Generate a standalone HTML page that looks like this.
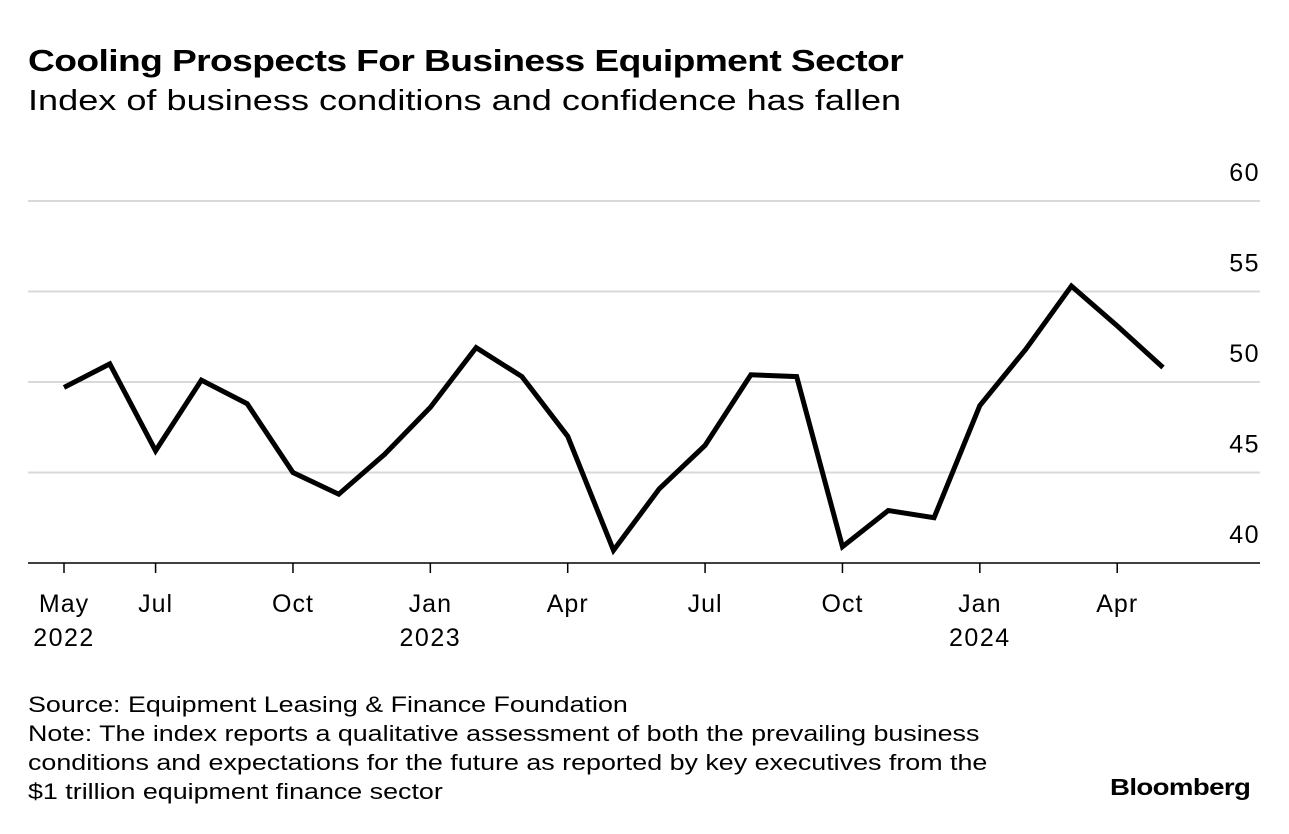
<!DOCTYPE html>
<html><head><meta charset="utf-8"><style>
body{margin:0;background:#fff;font-family:"Liberation Sans",Arial,sans-serif;color:#000}
#wrap{position:relative;width:1289px;height:834px;overflow:hidden}
.t{position:absolute;white-space:nowrap;transform-origin:0 0;transform:scaleX(1.2)}
</style></head><body>
<div id="wrap">
<div class="t" style="left:28px;top:43px;font-size:31px;font-weight:bold;letter-spacing:-0.5px">Cooling Prospects For Business Equipment Sector</div>
<div class="t" style="left:28px;top:85px;font-size:29px;transform:scaleX(1.245)">Index of business conditions and confidence has fallen</div>
<svg id="chart" width="1289" height="680" style="position:absolute;left:0;top:0"></svg>
<div class="t" style="left:28px;top:690px;font-size:22px;line-height:29px;transform:scaleX(1.22)">Source: Equipment Leasing &amp; Finance Foundation<br>Note: The index reports a qualitative assessment of both the prevailing business<br>conditions and expectations for the future as reported by key executives from the<br>$1 trillion equipment finance sector</div>
<div class="t" style="left:1110px;top:774px;font-size:23px;font-weight:bold;letter-spacing:-0.5px">Bloomberg</div>
</div>
<script>
const values=[49.7,51.0,46.2,50.1,48.8,45.0,43.8,46.0,48.6,51.9,50.3,47.0,40.7,44.1,46.5,50.4,50.3,40.9,42.9,42.5,48.7,51.8,55.3,53.1,50.8];
const yTicks=[40,45,50,55,60];
const xTickIdx=[0,2,5,8,11,14,17,20,23];
const xTickLabels=["May","Jul","Oct","Jan","Apr","Jul","Oct","Jan","Apr"];
const xYearLabels=["2022","","","2023","","","","2024",""];
const NS="http://www.w3.org/2000/svg";
const svg=document.getElementById('chart');
const x=i=>64+i*(1163-64)/24;
const y=v=>563-(v-40)*(563-201)/20;
const F='Liberation Sans, Arial, sans-serif';
function mk(t,a){const e=document.createElementNS(NS,t);for(const k in a)e.setAttribute(k,a[k]);svg.appendChild(e);return e;}
yTicks.forEach(v=>{
  const l=mk('line',{x1:28,x2:1260,y1:y(v),y2:y(v),stroke:v===40?'#000':'#d9d9d9','stroke-width':v===40?1.5:2});
  
  
  const t=mk('text',{x:1260,y:y(v)-20,'text-anchor':'end','font-size':25,'letter-spacing':1.5,'font-family':F});
  t.textContent=v;
  
  
});
xTickIdx.forEach((idx,k)=>{
  const l=mk('line',{x1:x(idx),x2:x(idx),y1:563,y2:573,stroke:'#000','stroke-width':1.5});
  
  
  const t=mk('text',{x:x(idx),y:612,'text-anchor':'middle','font-size':25,'letter-spacing':1,'font-family':F});
  t.textContent=xTickLabels[k];
  
  
  if(xYearLabels[k]){
    const t2=mk('text',{x:x(idx),y:646,'text-anchor':'middle','font-size':25,'letter-spacing':1.5,'font-family':F});
    t2.textContent=xYearLabels[k];
    
    
  }
});
const p=mk('polyline',{points:values.map((v,i)=>x(i)+','+y(v)).join(' '),fill:'none',stroke:'#000','stroke-width':5,'stroke-linejoin':'miter'});


</script>
</body></html>
